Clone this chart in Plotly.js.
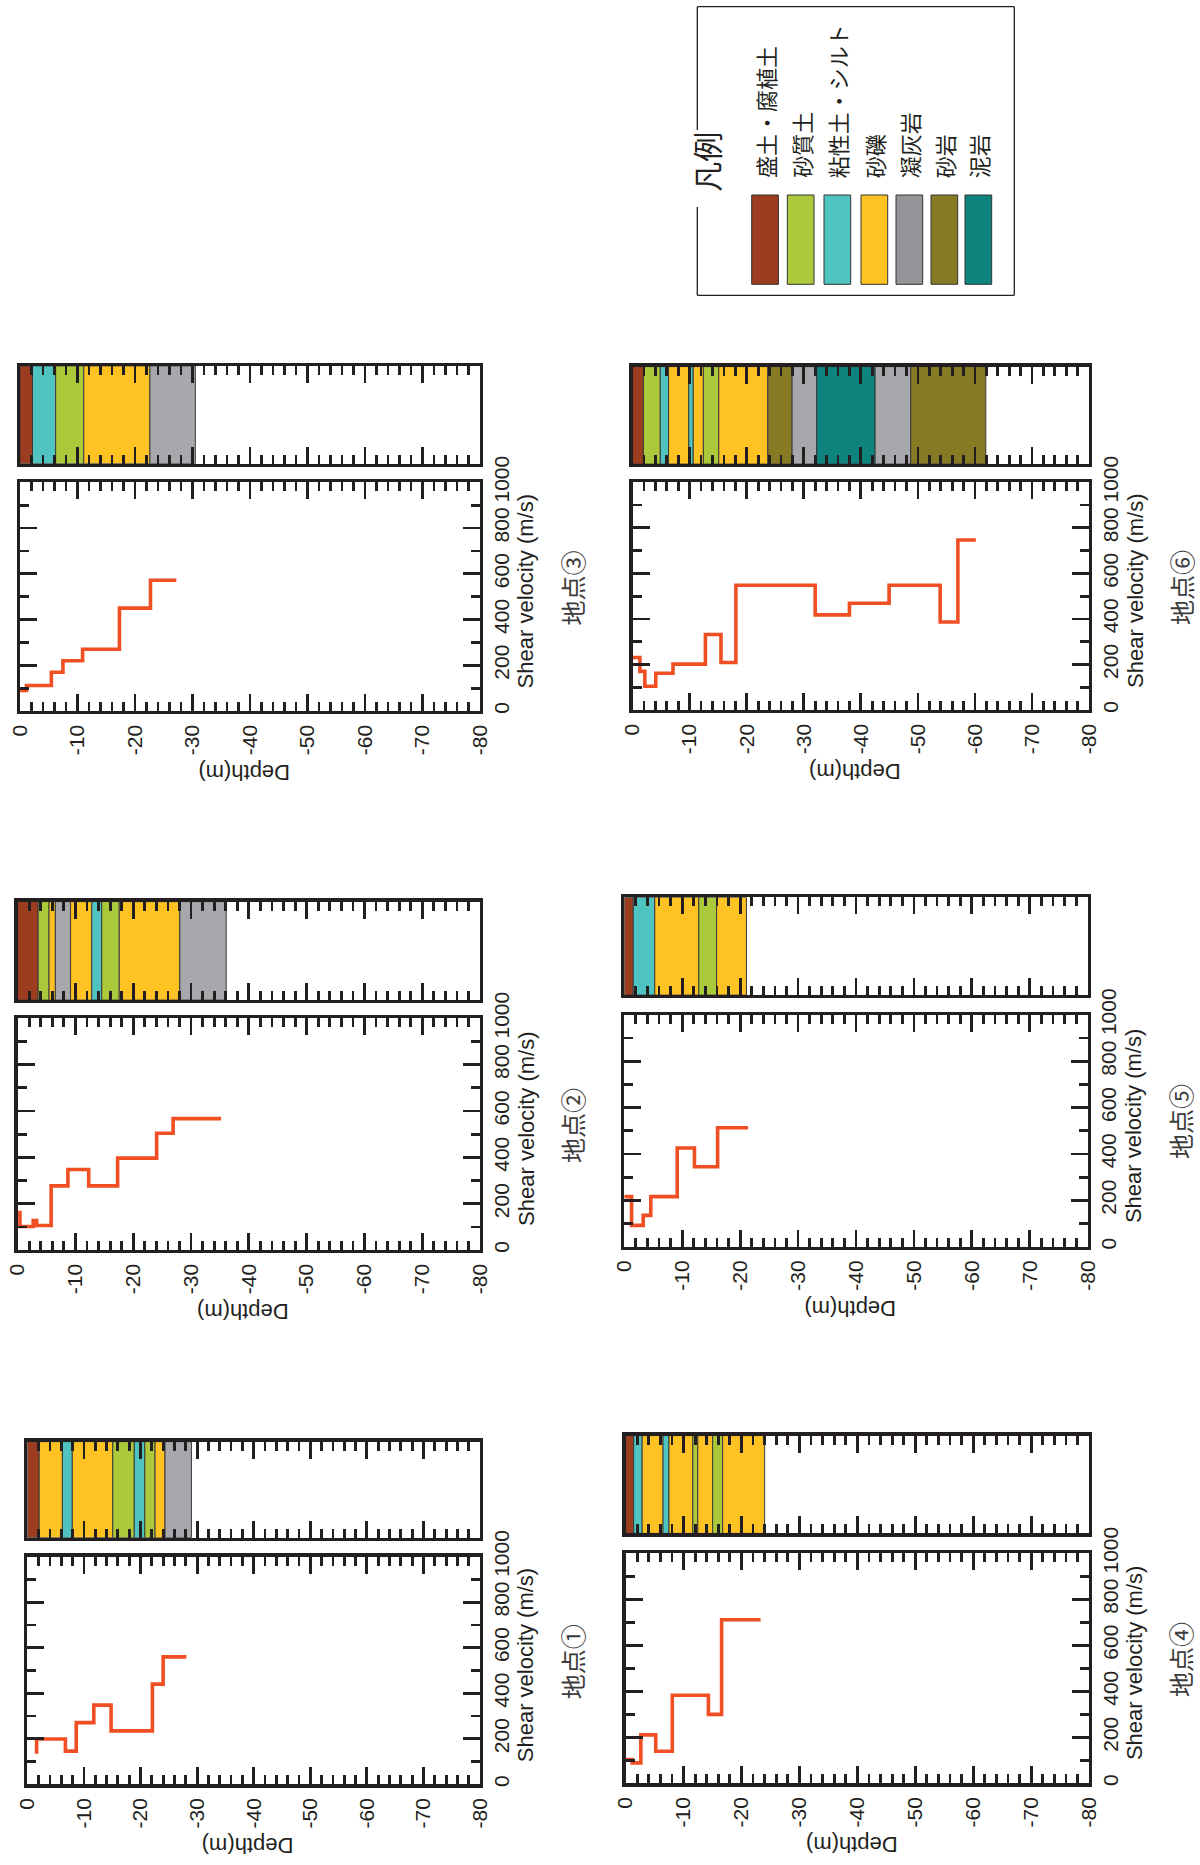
<!DOCTYPE html>
<html><head><meta charset="utf-8">
<script src="https://cdn.plot.ly/plotly-3.0.1.min.js"></script>
<style>html,body{margin:0;padding:0;background:#fff}#chart{width:1200px;height:1865px}</style>
</head><body><div id="chart"></div>
<script>
// ---------------- DATA ----------------
const stationNames = ['地点①','地点②','地点③','地点④','地点⑤','地点⑥'];
const soilNames = ['盛土・腐植土','砂質土','粘性土・シルト','砂礫','凝灰岩','砂岩','泥岩'];
const soilColors = ['#9c3d20','#abc93b','#4fc3c0','#fec222','#a6a8ab','#867a25','#0e847e'];
const legendColors = ['#9c3d20','#abc93b','#4fc3c0','#fec222','#939598','#867a25','#0e847e'];

const depthTickVals = [0,-10,-20,-30,-40,-50,-60,-70,-80];
const depthTickText = ['0','-10','-20','-30','-40','-50','-60','-70','-80'];
const velTickVals = [0,200,400,600,800,1000];
const velTickText = ['0','200','400','600','800','1000'];

// shear-velocity step profiles (depth m, Vs m/s)
const vsDepth1 = [-1.64,-1.64,-6.73,-8.65,-11.75,-14.8,-22.1,-24.0,-28.1];
const vsVel1   = [134,199,146,271,348,235,440,560,560];
const vsDepth2 = [-0.4,-0.4,-2.7,-3.3,-5.8,-8.7,-12.3,-17.3,-24.05,-26.9,-35.2];
const vsVel2   = [170,102,128,106,277,348,277,397,504,567,567];
const vsDepth3 = [0,-1.15,-5.47,-7.48,-10.9,-17.3,-22.7,-27.2];
const vsVel3   = [90,112,170,220,270,450,572,572];
const vsDepth4 = [0,-1.14,-2.63,-5.2,-8.06,-14.29,-16.57,-23.3];
const vsVel4   = [104,89,211,140,383,300,711,711];
const vsDepth5 = [0,-1.26,-3.26,-4.57,-9.14,-12.11,-16.11,-21.37];
const vsVel5   = [216,92,135,216,426,345,513,513];
const vsDepth6 = [0,-1.28,-2.15,-4.06,-7.08,-12.76,-15.49,-18.1,-32.0,-38.0,-44.95,-53.9,-57.0,-60.15];
const vsVel6   = [231,170,105,162,202,332,209,548,418,469,548,387,747,747];

// soil columns: layer boundaries (m) and soil type index per layer
const stripBounds1 = [0,-2.1,-6.2,-7.95,-15.1,-18.9,-20.76,-22.57,-24.33,-29.0];
const stripTypes1  = [0,3,2,3,1,2,1,3,4];
const stripBounds2 = [0,-3.55,-5.44,-6.53,-9.16,-12.83,-14.55,-17.58,-28.06,-36.08];
const stripTypes2  = [0,1,3,4,3,2,1,3,4];
const stripBounds3 = [0,-2.19,-6.22,-11.1,-22.6,-30.5];
const stripTypes3  = [0,2,1,3,4];
const stripBounds4 = [0,-1.39,-2.86,-6.46,-7.49,-11.6,-12.46,-15.03,-16.75,-24.0];
const stripTypes4  = [0,2,3,2,3,1,3,1,3];
const stripBounds5 = [0,-1.54,-5.26,-12.86,-15.94,-21.09];
const stripTypes5  = [0,2,3,1,3];
const stripBounds6 = [0,-1.9,-4.85,-6.3,-9.85,-10.63,-12.4,-15.1,-23.7,-27.95,-32.25,-42.5,-48.75,-61.9];
const stripTypes6  = [0,1,2,3,2,3,1,3,5,4,6,4,5];

const vsDepths = [vsDepth1,vsDepth2,vsDepth3,vsDepth4,vsDepth5,vsDepth6];
const vsVels = [vsVel1,vsVel2,vsVel3,vsVel4,vsVel5,vsVel6];
const stripBounds = [stripBounds1,stripBounds2,stripBounds3,stripBounds4,stripBounds5,stripBounds6];
const stripTypes = [stripTypes1,stripTypes2,stripTypes3,stripTypes4,stripTypes5,stripTypes6];

// ---------------- LAYOUT (pixel boxes) ----------------
const W = 1200, H = 1865;
// left, right, panelTop, panelBottom, stripTop, stripBottom
const PANELS = [
  [25.7,481.7,1555,1786,1440,1539.3],
  [16,481.7,1016.7,1251.7,900,1001.7],
  [18.3,481.7,480.7,712.7,364.3,465.3],
  [624,1090.7,1551.7,1785,1434,1535],
  [622.7,1089.3,1013.3,1248.3,895.7,996.7],
  [631,1090.7,480.7,711.7,365,465.7]
];
const LEG_BOX = [697.3,6.7,1014.3,295.3];
const LEG_GAP = [130,207];
const LEG_SW_X = [751.7,787.3,824,861,896,931,965];
const LEG_SW_W = 26.7, LEG_SW_Y0 = 195, LEG_SW_Y1 = 284.3, LEG_TXT_BOTTOM = 180;

const INK = '#231f20', LW = 3.3, INSET = 1.6;
const px = x => x / W, py = y => 1 - y / H;
const latin = 'Liberation Sans, Arial, sans-serif';
const cjk = 'Noto Sans CJK JP, sans-serif';
const tickFont = {family: latin, size: 21, color: INK};

const traces = [], annotations = [], shapes = [];
const layout = {
  width: W, height: H, margin: {l:0, r:0, t:0, b:0},
  paper_bgcolor: '#fff', plot_bgcolor: 'rgba(0,0,0,0)',
  showlegend: false, barmode: 'overlay', bargap: 0,
  font: {family: latin, color: INK}
};

function depthAxis(dom, anchor, labels) {
  return {
    domain: dom, anchor: anchor, range: [0, -80],
    tickmode: 'array', tickvals: depthTickVals, ticktext: depthTickText,
    showticklabels: labels, tickangle: -90, tickfont: tickFont, ticklabelstandoff: 2,
    ticks: 'inside', ticklen: 17, tickwidth: 2.8, tickcolor: INK,
    minor: {tickmode: 'linear', tick0: 0, dtick: 2, ticks: 'inside', ticklen: 9, tickwidth: 2.8, tickcolor: INK},
    mirror: 'allticks', showline: true, linewidth: LW, linecolor: INK,
    showgrid: false, zeroline: false, fixedrange: true
  };
}

for (let i = 0; i < 6; i++) {
  const [l, r, pt, pb, st, sb] = PANELS[i];
  const xd = [px(l + INSET), px(r - INSET)];
  const a = 2 * i + 1, b = 2 * i + 2;
  const ka = a === 1 ? '' : String(a), kb = String(b);

  layout['xaxis' + ka] = depthAxis(xd, 'y' + ka, true);
  layout['yaxis' + ka] = {
    domain: [py(pb - INSET), py(pt + INSET)], anchor: 'x' + ka, side: 'right',
    range: [0, 1000], tickmode: 'array', tickvals: velTickVals, ticktext: velTickText,
    tickangle: -90, tickfont: tickFont,
    ticks: 'inside', ticklen: 17, tickwidth: 2.8, tickcolor: INK,
    minor: {tickmode: 'linear', tick0: 0, dtick: 100, ticks: 'inside', ticklen: 9, tickwidth: 2.8, tickcolor: INK},
    mirror: 'allticks', showline: true, linewidth: LW, linecolor: INK,
    showgrid: false, zeroline: false, fixedrange: true
  };
  layout['xaxis' + kb] = depthAxis(xd, 'y' + kb, false);
  layout['yaxis' + kb] = {
    domain: [py(sb - INSET), py(st + INSET)], anchor: 'x' + kb,
    range: [-0.5, 0.5], showticklabels: false, ticks: '',
    mirror: true, showline: true, linewidth: LW, linecolor: INK,
    showgrid: false, zeroline: false, fixedrange: true
  };

  // soil column
  const bnd = stripBounds[i], typ = stripTypes[i];
  const tops = bnd.slice(0, -1);
  traces.push({
    type: 'bar', orientation: 'h', xaxis: 'x' + kb, yaxis: 'y' + kb,
    y: tops.map(() => 0), base: tops, x: tops.map((t, k) => bnd[k + 1] - t),
    width: 1, marker: {color: typ.map(t => soilColors[t]), line: {width: 1, color: '#3a3a3a'}},
    hoverinfo: 'skip'
  });
  // velocity profile
  traces.push({
    type: 'scatter', mode: 'lines', xaxis: 'x' + ka, yaxis: 'y' + ka,
    x: vsDepths[i], y: vsVels[i], line: {shape: 'hv', color: '#f04e23', width: 3.6},
    hoverinfo: 'skip'
  });

  const cy = (pt + pb) / 2;
  annotations.push({text: 'Depth(m)', xref: 'paper', yref: 'paper', x: px((l + r) / 2 - 6), y: py(pb + 60),
    textangle: 180, showarrow: false, xanchor: 'center', yanchor: 'middle', font: {family: latin, size: 22, color: INK}});
  annotations.push({text: 'Shear velocity (m/s)', xref: 'paper', yref: 'paper', x: px(r + 44), y: py(cy - 5),
    textangle: -90, showarrow: false, xanchor: 'center', yanchor: 'middle', font: {family: latin, size: 22, color: INK}});
  annotations.push({text: stationNames[i], xref: 'paper', yref: 'paper', x: px(r + 90), y: py(cy - 9),
    textangle: -90, showarrow: false, xanchor: 'center', yanchor: 'middle', font: {family: cjk, size: 25, color: '#3c3c3c'}});
}

// legend box
const [bx0, by0, bx1, by1] = LEG_BOX;
const seg = (x0, y0, x1, y1) => ({type: 'line', xref: 'paper', yref: 'paper', x0: px(x0), y0: py(y0), x1: px(x1), y1: py(y1), line: {color: INK, width: 1.3}});
shapes.push(seg(bx0, by0, bx1, by0), seg(bx1, by0, bx1, by1), seg(bx0, by1, bx1, by1),
            seg(bx0, by0, bx0, LEG_GAP[0]), seg(bx0, LEG_GAP[1], bx0, by1));
annotations.push({text: '凡例', xref: 'paper', yref: 'paper', x: px(706), y: py(161.7), textangle: -90,
  showarrow: false, xanchor: 'center', yanchor: 'middle', font: {family: cjk, size: 30, color: INK}});
for (let k = 0; k < soilNames.length; k++) {
  const x0 = LEG_SW_X[k];
  shapes.push({type: 'rect', xref: 'paper', yref: 'paper', x0: px(x0), x1: px(x0 + LEG_SW_W), y0: py(LEG_SW_Y1), y1: py(LEG_SW_Y0),
    fillcolor: legendColors[k], line: {color: '#333', width: 1}});
  annotations.push({text: soilNames[k], xref: 'paper', yref: 'paper', x: px(x0 + LEG_SW_W / 2), y: py(LEG_TXT_BOTTOM),
    textangle: -90, showarrow: false, xanchor: 'center', yanchor: 'bottom', font: {family: cjk, size: 22, color: INK}});
}

layout.annotations = annotations;
layout.shapes = shapes;
Plotly.newPlot('chart', traces, layout, {staticPlot: true, displayModeBar: false});
</script></body></html>
